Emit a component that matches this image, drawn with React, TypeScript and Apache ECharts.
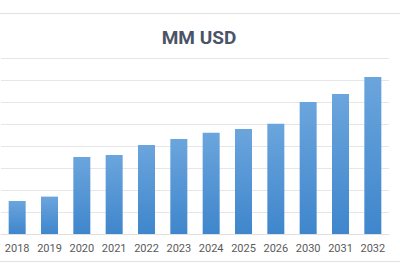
import React, { useEffect, useRef } from "react";
import * as echarts from "echarts";

const categories = ["2018", "2019", "2020", "2021", "2022", "2023", "2024", "2025", "2026", "2030", "2031", "2032"];
const values = [1.5, 1.7, 3.5, 3.59, 4.05, 4.32, 4.6, 4.77, 5.01, 6.0, 6.36, 7.14];
const titleText = "MM USD";

export default function App() {
  const ref = useRef<HTMLDivElement>(null);
  useEffect(() => {
    const chart = echarts.init(ref.current!, null, { renderer: "svg" });
    chart.setOption({
      animation: false,
      title: {
        text: titleText,
        left: 194,
        textAlign: "center",
        top: 23,
        textStyle: { fontFamily: "Roboto", fontSize: 19, fontWeight: "bold", color: "#4a5466" },
      },
      graphic: [
        { type: "line", shape: { x1: 0, y1: 13.5, x2: 400, y2: 13.5 }, style: { stroke: "#e2e2e2", lineWidth: 1 } },
        { type: "line", shape: { x1: 0, y1: 261.5, x2: 400, y2: 261.5 }, style: { stroke: "#e2e2e2", lineWidth: 1 } },
      ],
      grid: { left: 1, top: 58, width: 388, height: 176, containLabel: false },
      xAxis: {
        type: "category",
        data: categories,
        axisLine: { lineStyle: { color: "#e0e0e0" } },
        axisTick: { show: false },
        axisLabel: { fontFamily: "Roboto", fontSize: 11, color: "#5a5a5a", margin: 9 },
      },
      yAxis: {
        type: "value",
        min: 0,
        max: 8,
        interval: 1,
        axisLabel: { show: false },
        axisLine: { show: false },
        axisTick: { show: false },
        splitLine: { lineStyle: { color: "#e6e6e6" } },
      },
      series: [
        {
          type: "bar",
          data: values,
          barWidth: 17,
          itemStyle: {
            color: new echarts.graphic.LinearGradient(0, 0, 0, 1, [
              { offset: 0, color: "#6ba5dd" },
              { offset: 1, color: "#3f86cc" },
            ]),
          },
        },
      ],
    });
    return () => chart.dispose();
  }, []);
  return <div ref={ref} style={{ width: 400, height: 275, position: "absolute", left: 0, top: 0 }} />;
}
